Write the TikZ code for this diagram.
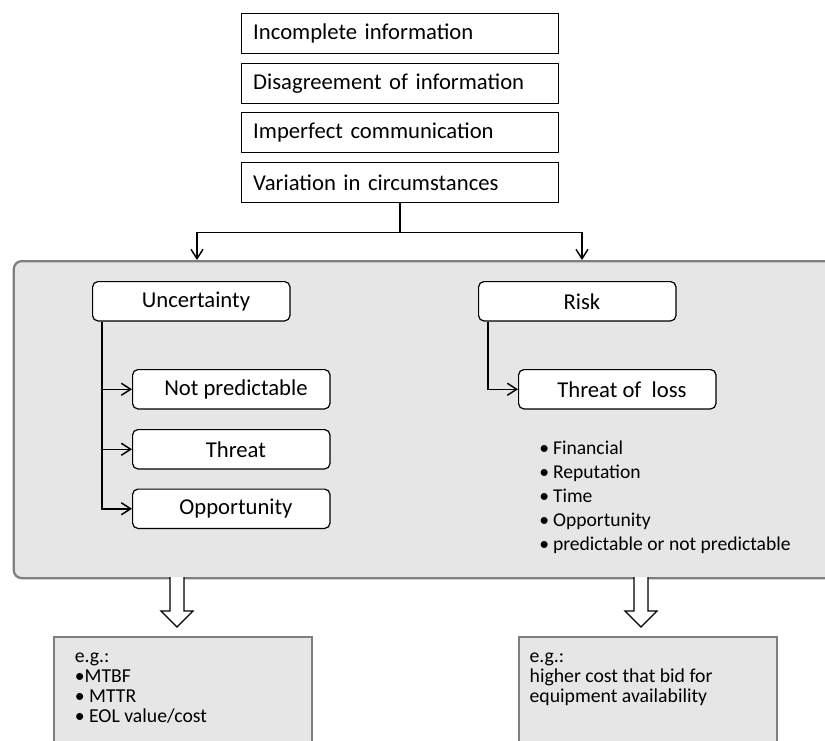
\documentclass[tikz,border=0pt]{standalone}
\usepackage{fontspec}
\setmainfont{Carlito}
\usepackage{xcolor}
\usetikzlibrary{arrows.meta, positioning, calc}
\definecolor{panelgray}{HTML}{E6E6E6}
\definecolor{panelline}{HTML}{7F7F7F}

\tikzset{
  causebox/.style={draw, line width=1.1pt, anchor=north west, minimum height=30pt,
    text width=220pt, inner xsep=9pt, align=left, font=\fontsize{17}{20}\selectfont},
  classbox/.style={draw, fill=white, line width=0.9pt, rounded corners=4pt, anchor=north west,
    minimum width=148pt, minimum height=29.5pt, font=\fontsize{17}{20}\selectfont,
    execute at begin node=\hspace*{7pt}},
  panel/.style={draw=panelline, fill=panelgray, line width=1.7pt, rounded corners=6pt,
    anchor=north west, minimum width=640pt, minimum height=237.75pt},
  examplebox/.style={draw=panelline, fill=panelgray, line width=1.5pt, anchor=north west,
    minimum width=193.5pt, minimum height=120pt},
  exampletext/.style={anchor=north west, align=left, inner sep=0pt,
    font=\fontsize{14.8}{15}\selectfont},
  link/.style={line width=1.1pt, -{Straight Barb[length=7pt,width=9pt]}},
  hollow/.style={draw, fill=white, line width=0.9pt, line join=miter}
}

\begin{document}
\begin{tikzpicture}[x=0.75pt, y=-0.75pt]
  \useasboundingbox (0,0) rectangle (825,740);
  \clip (0,0) rectangle (825,740);

  %% sources
  \node[causebox] (incomplete) at (240.5,13) {Incomplete information};
  \node[causebox] (disagree) at (240.5,62.5) {Disagreement of information};
  \node[causebox] (imperfect) at (240.5,112) {Imperfect communication};
  \node[causebox] (variation) at (240.5,162) {Variation in circumstances};

  %% grey panel
  \node[panel] (panel) at (12.6,260) {};

  %% split into uncertainty / risk
  \coordinate (split) at ($(variation.south)+(0,29)$);
  \coordinate (uncin) at (197,260);
  \coordinate (riskin) at (582,260);
  \draw[link] (variation.south) -- (split) -| (uncin);
  \draw[link] (split) -| (riskin);

  %% uncertainty branch
  \node[classbox] (uncert) at (92,281) {Uncertainty};
  \node[classbox] (notpred) at (132,369) {Not predictable};
  \node[classbox] (threat) at (132,429) {Threat};
  \node[classbox] (opport) at (132,488.5) {Opportunity};
  \coordinate (unctrunk) at ($(uncert.south west)+(10,0)$);
  \foreach \b in {notpred, threat, opport}{
    \draw[link] (unctrunk) |- (\b.west);
  }

  %% risk branch
  \node[classbox] (risk) at (478,281) {Risk};
  \node[classbox] (threatloss) at (518,369) {Threat of\ \ loss};
  \coordinate (risktrunk) at ($(risk.south west)+(10,0)$);
  \draw[link] (risktrunk) |- (threatloss.west);
  \node[anchor=north west, align=left, inner sep=0pt, font=\fontsize{14.7}{18}\selectfont] (losses)
    at (539,440.5) {•\hspace{3pt}Financial\\ •\hspace{3pt}Reputation\\ •\hspace{3pt}Time\\
      •\hspace{3pt}Opportunity\\ •\hspace{3pt}predictable or not predictable};

  %% hollow arrows down
  \coordinate (uncdown) at (177,577);
  \coordinate (riskdown) at (641,577);
  \foreach \c in {uncdown, riskdown}{
    \draw[hollow] (\c) ++(-7,0) -- ++(0,34) -- ++(-9,0) -- ++(16,16) -- ++(16,-16)
      -- ++(-9,0) -- ++(0,-34);
  }

  %% examples
  \node[examplebox] (uncex) at (52.6,636) {};
  \node[exampletext] (uncextext) at ($(uncex.north west)+(22,17)$)
    {e.g.:\\ •MTBF\\ • MTTR\\ • EOL value/cost};
  \node[examplebox] (riskex) at (518.4,636) {};
  \node[exampletext] (riskextext) at ($(riskex.north west)+(11,17)$)
    {e.g.:\\ higher cost that bid for\\ equipment availability};

\end{tikzpicture}
\end{document}
